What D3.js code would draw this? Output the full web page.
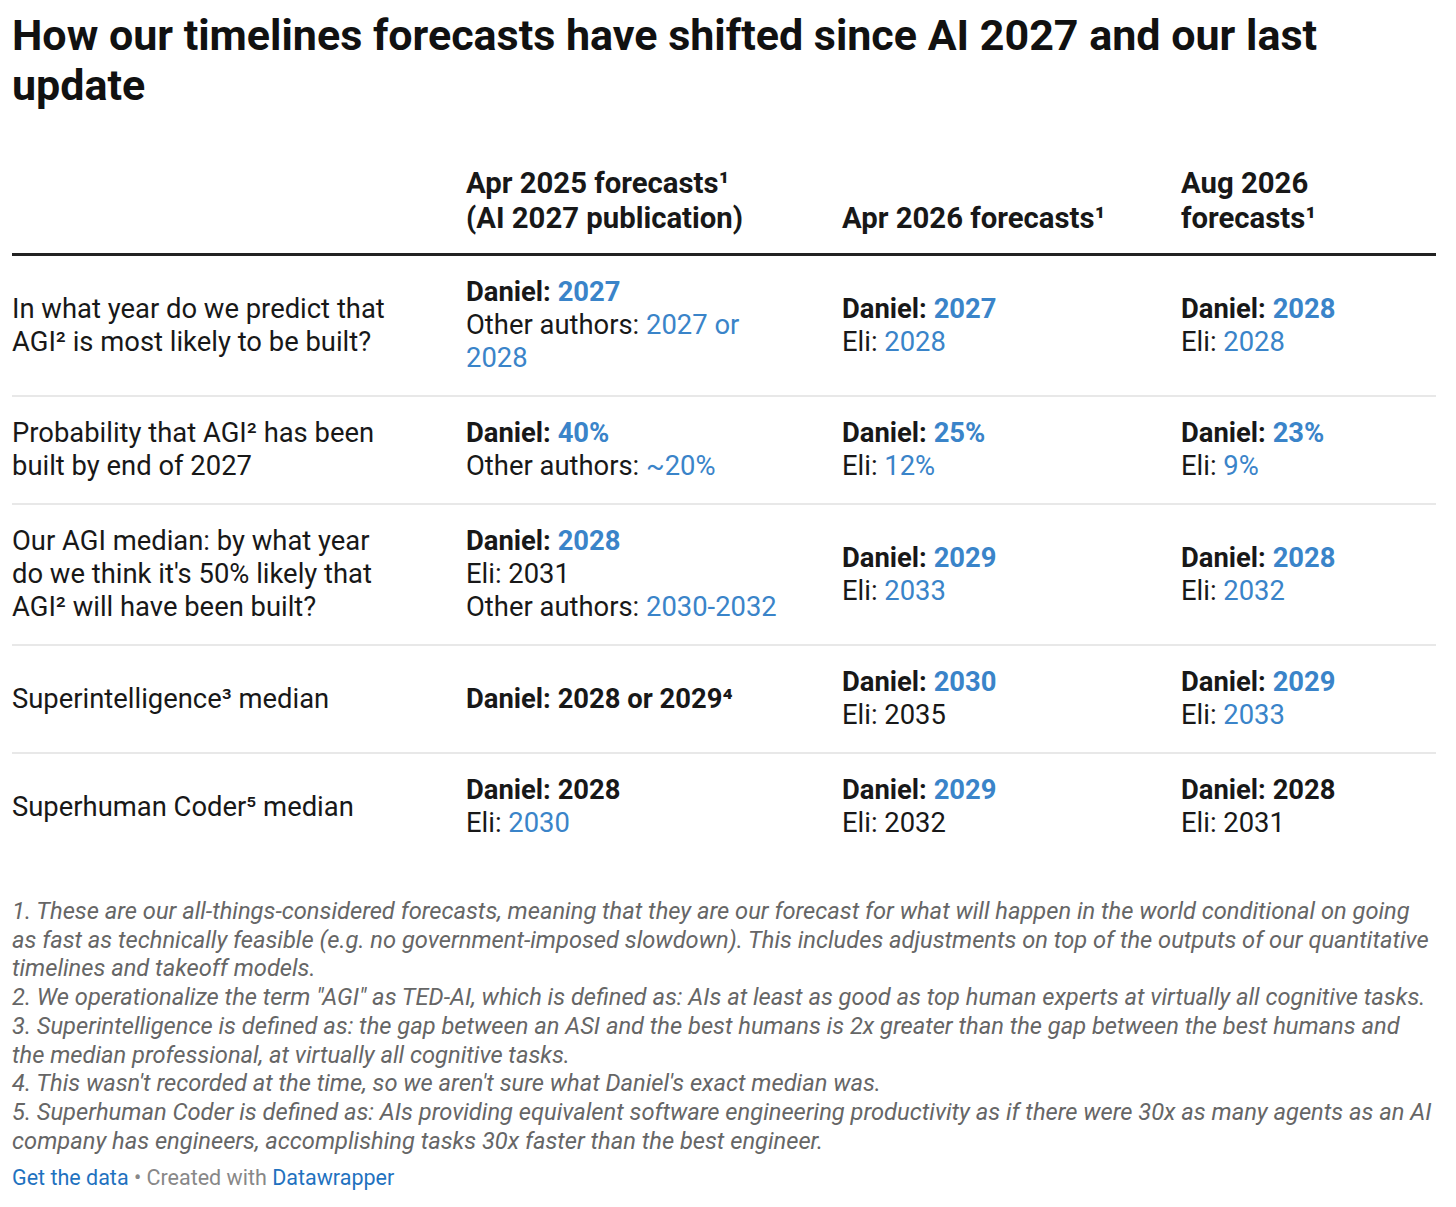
<!DOCTYPE html>
<meta charset="utf-8">
<head>
<style>
body {
  margin: 0;
  background: #fff;
  font-family: Roboto, "Noto Sans", sans-serif;
  color: #181818;
}
#chart {
  padding-left: 12px;
  width: 1424px;
}
h1 {
  font-size: 43px;
  line-height: 50px;
  font-weight: 700;
  margin: 10px 0 0 0;
  width: 1360px;
  color: #111;
}
table {
  border-collapse: collapse;
  table-layout: fixed;
  width: 1424px;
  margin-top: 56px;
}
th {
  font-size: 29.3px;
  line-height: 35px;
  font-weight: 700;
  text-align: left;
  vertical-align: bottom;
  padding: 0 0 17px 0;
  border-bottom: 3px solid #222;
}
td {
  font-size: 27.4px;
  line-height: 33px;
  vertical-align: middle;
  padding: 20px 0;
  border-bottom: 2px solid #e8e8e8;
}
tr:last-child td { border-bottom: none; }
.hi { color: #3a84c9; }
.b { font-weight: 700; }
.notes {
  margin-top: 37px;
  font-size: 23.7px;
  line-height: 28.7px;
  font-style: italic;
  color: #666;
  white-space: nowrap;
}
.footer {
  margin-top: 10px;
  font-size: 21.5px;
  line-height: 25px;
  color: #888;
}
.footer .link { color: #1f72bf; }
</style>
</head>
<body>
<div id="chart"></div>

<script src="https://d3js.org/d3.v7.min.js"></script>
<script>

var title = "How our timelines forecasts have shifted since AI 2027 and our last update";

// column headers (one entry per line)
var headers = [
  [""],
  ["Apr 2025 forecasts¹", "(AI 2027 publication)"],
  ["Apr 2026 forecasts¹"],
  ["Aug 2026", "forecasts¹"]
];
var columnWidths = [454, 376, 339, 255];

// row labels (one entry per line)
var rowLabels = [
  ["In what year do we predict that", "AGI² is most likely to be built?"],
  ["Probability that AGI² has been", "built by end of 2027"],
  ["Our AGI median: by what year", "do we think it's 50% likely that", "AGI² will have been built?"],
  ["Superintelligence³ median"],
  ["Superhuman Coder⁵ median"]
];

// each line: [label, value, bold, value highlighted]
var apr2025 = [
  [["Daniel: ", "2027", true, true], ["Other authors: ", "2027 or", false, true], ["", "2028", false, true]],
  [["Daniel: ", "40%", true, true], ["Other authors: ", "~20%", false, true]],
  [["Daniel: ", "2028", true, true], ["Eli: ", "2031", false, false], ["Other authors: ", "2030-2032", false, true]],
  [["Daniel: ", "2028 or 2029⁴", true, false]],
  [["Daniel: ", "2028", true, false], ["Eli: ", "2030", false, true]]
];
var apr2026 = [
  [["Daniel: ", "2027", true, true], ["Eli: ", "2028", false, true]],
  [["Daniel: ", "25%", true, true], ["Eli: ", "12%", false, true]],
  [["Daniel: ", "2029", true, true], ["Eli: ", "2033", false, true]],
  [["Daniel: ", "2030", true, true], ["Eli: ", "2035", false, false]],
  [["Daniel: ", "2029", true, true], ["Eli: ", "2032", false, false]]
];
var aug2026 = [
  [["Daniel: ", "2028", true, true], ["Eli: ", "2028", false, true]],
  [["Daniel: ", "23%", true, true], ["Eli: ", "9%", false, true]],
  [["Daniel: ", "2028", true, true], ["Eli: ", "2032", false, true]],
  [["Daniel: ", "2029", true, true], ["Eli: ", "2033", false, true]],
  [["Daniel: ", "2028", true, false], ["Eli: ", "2031", false, false]]
];

// footnotes, one entry per printed line
var notes = [
  "1. These are our all-things-considered forecasts, meaning that they are our forecast for what will happen in the world conditional on going",
  "as fast as technically feasible (e.g. no government-imposed slowdown). This includes adjustments on top of the outputs of our quantitative",
  "timelines and takeoff models.",
  "2. We operationalize the term \"AGI\" as TED-AI, which is defined as: AIs at least as good as top human experts at virtually all cognitive tasks.",
  "3. Superintelligence is defined as: the gap between an ASI and the best humans is 2x greater than the gap between the best humans and",
  "the median professional, at virtually all cognitive tasks.",
  "4. This wasn't recorded at the time, so we aren't sure what Daniel's exact median was.",
  "5. Superhuman Coder is defined as: AIs providing equivalent software engineering productivity as if there were 30x as many agents as an AI",
  "company has engineers, accomplishing tasks 30x faster than the best engineer."
];

var chart = d3.select("#chart");

chart.append("h1").text(title);

var table = chart.append("table");

table.append("colgroup")
  .selectAll("col")
  .data(columnWidths)
  .enter()
  .append("col")
    .style("width", function(d) { return d + "px"; });

// header
table.append("thead").append("tr")
  .selectAll("th")
  .data(headers)
  .enter()
  .append("th")
  .each(function(lines) {
    var th = d3.select(this);
    lines.forEach(function(l, i) {
      if (i > 0) th.append("br");
      th.append("span").text(l);
    });
  });

// body
var cols = [apr2025, apr2026, aug2026];
var rows = rowLabels.map(function(label, i) {
  return [label].concat(cols.map(function(c) { return c[i]; }));
});

var tr = table.append("tbody")
  .selectAll("tr")
  .data(rows)
  .enter()
  .append("tr");

tr.selectAll("td")
  .data(function(d) { return d; })
  .enter()
  .append("td")
  .each(function(lines, j) {
    var td = d3.select(this);
    lines.forEach(function(l, i) {
      if (i > 0) td.append("br");
      if (j == 0) {
        td.append("span").text(l);
        return;
      }
      var line = td.append("span").classed("b", l[2]);
      line.append("span").text(l[0]);
      line.append("span").classed("hi", l[3]).text(l[1]);
    });
  });

// notes + footer
chart.append("div")
  .attr("class", "notes")
  .selectAll("div")
  .data(notes)
  .enter()
  .append("div")
    .text(function(d) { return d; });

var footer = chart.append("div").attr("class", "footer");
footer.append("span").attr("class", "link").text("Get the data");
footer.append("span").text(" • Created with ");
footer.append("span").attr("class", "link").text("Datawrapper");

</script>
</body>
